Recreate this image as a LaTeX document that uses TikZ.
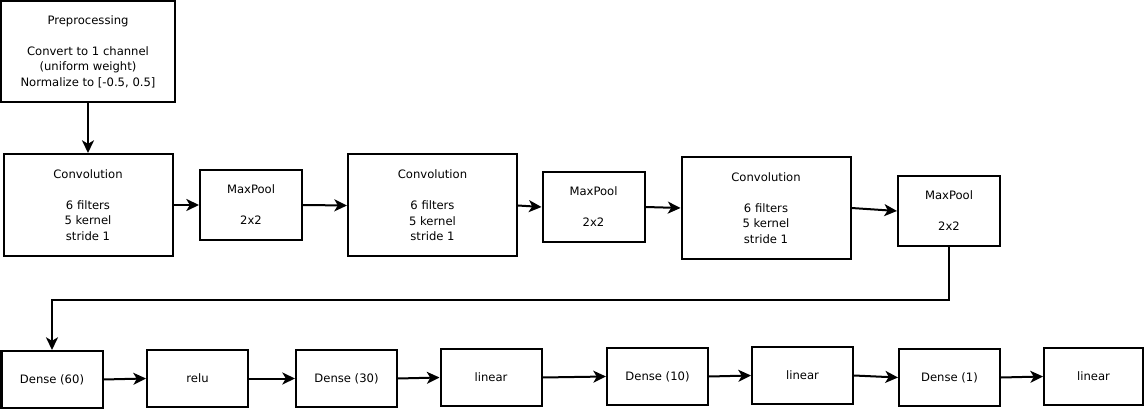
\documentclass[tikz,border=0pt]{standalone}
\usepackage{fontspec}
\setmainfont{DejaVu Sans}
\usetikzlibrary{shapes,arrows.meta,positioning}

\begin{document}
\begin{tikzpicture}[
    x=0.75pt, y=-0.75pt,
    every node/.style={font=\fontsize{8.7}{11.6}\selectfont, align=center},
    prepbox/.style={rectangle, draw, line width=1.5pt, minimum width=130.5pt, minimum height=75.75pt, inner sep=0pt},
    convbox/.style={rectangle, draw, line width=1.5pt, minimum width=126.75pt, minimum height=76.5pt, inner sep=0pt},
    poolbox/.style={rectangle, draw, line width=1.5pt, minimum width=76.5pt, minimum height=52.5pt, inner sep=0pt},
    densebox/.style={rectangle, draw, line width=1.5pt, minimum width=75.75pt, minimum height=42.75pt, inner sep=0pt},
    arrow/.style={-{Stealth[length=9.5pt, width=9pt, inset=2.6pt]}, line width=1.5pt}
]
\useasboundingbox (0,0) rectangle (1145,409);

% Preprocessing
\node[prepbox] (prep) at (88, 51.5) {Preprocessing\\[11.6pt]Convert to 1 channel\\(uniform weight)\\Normalize to [-0.5, 0.5]};

% Convolution / pooling row
\node[convbox] (conv1) at (88, 205) {Convolution\\[11.6pt]6 filters\\5 kernel\\stride 1};
\node[poolbox] (pool1) at (251, 205) {MaxPool\\[11.6pt]2x2};
\node[convbox] (conv2) at (432.5, 205.5) {Convolution\\[11.6pt]6 filters\\5 kernel\\stride 1};
\node[poolbox] (pool2) at (593.5, 207) {MaxPool\\[11.6pt]2x2};
\node[convbox] (conv3) at (766, 208) {Convolution\\[11.6pt]6 filters\\5 kernel\\stride 1};
\node[poolbox] (pool3) at (949, 211) {MaxPool\\[11.6pt]2x2};

% Dense row
\node[densebox] (d60) at (52, 379.5) {Dense (60)};
\node[densebox] (relu) at (197.5, 378.5) {relu};
\node[densebox] (d30) at (346.5, 378.5) {Dense (30)};
\node[densebox] (lin1) at (491, 377.5) {linear};
\node[densebox] (d10) at (657.5, 376.5) {Dense (10)};
\node[densebox] (lin2) at (802.5, 375.5) {linear};
\node[densebox] (d1) at (949.5, 377.5) {Dense (1)};
\node[densebox, minimum width=74.25pt] (lin3) at (1093.5, 376.5) {linear};

% Connections
\draw[arrow] (prep.south) -- (conv1.north);
\draw[arrow] (conv1.east) -- (pool1.west);
\draw[arrow] (pool1.east) -- (conv2.west);
\draw[arrow] (conv2.east) -- (pool2.west);
\draw[arrow] (pool2.east) -- (conv3.west);
\draw[arrow] (conv3.east) -- (pool3.west);
\draw[arrow] (pool3.south) -- ++(0, 53) -| (d60.north);
\draw[arrow] (d60.east) -- (relu.west);
\draw[arrow] (relu.east) -- (d30.west);
\draw[arrow] (d30.east) -- (lin1.west);
\draw[arrow] (lin1.east) -- (d10.west);
\draw[arrow] (d10.east) -- (lin2.west);
\draw[arrow] (lin2.east) -- (d1.west);
\draw[arrow] (d1.east) -- (lin3.west);

\end{tikzpicture}
\end{document}
